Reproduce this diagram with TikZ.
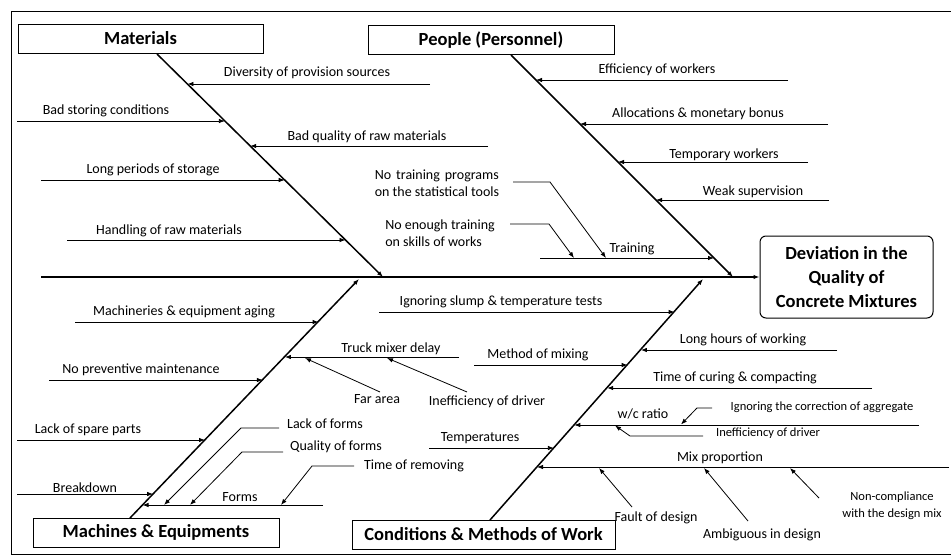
\documentclass[tikz,border=0pt]{standalone}
\usepackage{fontspec}
\setmainfont{Carlito}
\usetikzlibrary{arrows.meta, positioning}
\tikzset{
        x=1pt, y=-1pt, % one unit per pixel of the sketch, y pointing down
        >={Latex[length=6pt,width=4.5pt]}, % small filled arrow heads
        heading/.style={draw, line width=1pt, minimum height=29pt, inner sep=0pt,
            font=\fontsize{18.5}{24}\selectfont\bfseries}, % category boxes
        cause/.style={font=\fontsize{14}{17}\selectfont, inner sep=0pt, align=left},
        minor/.style={font=\fontsize{12.5}{17}\selectfont, inner sep=0pt},
        spine/.style={line width=2pt, ->},
        bone/.style={line width=1.5pt, ->},
        rib/.style={line width=0.8pt, ->},
    }

\begin{document}
\begin{tikzpicture}
    \useasboundingbox (0,0) rectangle (951,557);
    \draw[line width=0.8pt] (951,11) -- (11,11) -- (11,554) -- (951,554);

    % heads of the four bones and the effect
    \node[heading, minimum width=245pt] (mat) at (140.5,38.5) {Materials};
    \node[heading, minimum width=246pt] (ppl) at (491,40) {People (Personnel)};
    \node[heading, minimum width=246pt] (mach) at (156,532.5) {Machines \& Equipments};
    \node[heading, minimum width=263pt] (cond) at (483.5,534.5) {Conditions \& Methods of Work};
    \node[heading, rounded corners=6pt, minimum width=173pt, minimum height=82pt, align=center]
        (dev) at (846.5,277) {Deviation in the\\Quality of\\Concrete Mixtures};

    % spine and bones
    \coordinate (tail) at (41,277);
    \draw[spine] (tail) -- (dev.west);
    \coordinate (matTop) at (157,54);
    \coordinate (matHead) at (383,277);
    \coordinate (pplTop) at (511,55);
    \coordinate (pplHead) at (733,277);
    \coordinate (machFoot) at (130,518);
    \coordinate (machHead) at (359,279);
    \coordinate (condFoot) at (490,520);
    \coordinate (condHead) at (703,279);
    \draw[bone] (matTop) -- (matHead);
    \draw[bone] (pplTop) -- (pplHead);
    \draw[bone] (machFoot) -- (machHead);
    \draw[bone] (condFoot) -- (condHead);

    % Materials
    \node[cause] (divers) at (307,73) {Diversity of provision sources};
    \coordinate (diversA) at (430,84);
    \coordinate (diversB) at (187.4,84);
    \draw[rib] (diversA) -- (diversB);
    \node[cause] (storing) at (106,111) {Bad storing conditions};
    \coordinate (storingA) at (17,121);
    \coordinate (storingB) at (224.9,121);
    \draw[rib] (storingA) -- (storingB);
    \node[cause] (rawqual) at (367,137) {Bad quality of raw materials};
    \coordinate (rawqualA) at (488,146);
    \coordinate (rawqualB) at (250.2,146);
    \draw[rib] (rawqualA) -- (rawqualB);
    \node[cause] (periods) at (153,170) {Long periods of storage};
    \coordinate (periodsA) at (41,180);
    \coordinate (periodsB) at (284.7,180);
    \draw[rib] (periodsA) -- (periodsB);
    \node[cause] (handling) at (169,231) {Handling of raw materials};
    \coordinate (handlingA) at (67,240);
    \coordinate (handlingB) at (345.5,240);
    \draw[rib] (handlingA) -- (handlingB);

    % People
    \node[cause] (effic) at (657,70) {Efficiency of workers};
    \coordinate (efficA) at (788,80);
    \coordinate (efficB) at (536,80);
    \draw[rib] (efficA) -- (efficB);
    \node[cause] (alloc) at (698,114) {Allocations \& monetary bonus};
    \coordinate (allocA) at (828,124);
    \coordinate (allocB) at (580,124);
    \draw[rib] (allocA) -- (allocB);
    \node[cause] (tempo) at (724,155) {Temporary workers};
    \coordinate (tempoA) at (808,162);
    \coordinate (tempoB) at (618,162);
    \draw[rib] (tempoA) -- (tempoB);
    \node[cause] (superv) at (753,192) {Weak supervision};
    \coordinate (supervA) at (829,200);
    \coordinate (supervB) at (656,200);
    \draw[rib] (supervA) -- (supervB);
    \node[cause] (train) at (632,249) {Training};
    \coordinate (trainA) at (540,258);
    \coordinate (trainB) at (714,258);
    \draw[rib] (trainA) -- (trainB);
    \node[cause] (noprog) at (437,183.5) {\makebox[124pt][s]{No training programs}\\on the statistical tools};
    \coordinate (noprogA) at (513,182);
    \coordinate (noprogB) at (550,182);
    \coordinate (noprogC) at (606,258);
    \draw[rib] (noprogA) -- (noprogB) -- (noprogC);
    \node[cause] (noskill) at (440,233.5) {No enough training\\on skills of works};
    \coordinate (noskillA) at (510,224);
    \coordinate (noskillB) at (549,224);
    \coordinate (noskillC) at (574,258);
    \draw[rib] (noskillA) -- (noskillB) -- (noskillC);

    % Machines & Equipments
    \node[cause] (aging) at (184,312) {Machineries \& equipment aging};
    \coordinate (agingA) at (75,322);
    \coordinate (agingB) at (318.6,322);
    \draw[rib] (agingA) -- (agingB);
    \node[cause] (prevent) at (141,370) {No preventive maintenance};
    \coordinate (preventA) at (49,380);
    \coordinate (preventB) at (262.8,380);
    \draw[rib] (preventA) -- (preventB);
    \node[cause] (spare) at (88,430) {Lack of spare parts};
    \coordinate (spareA) at (17,440);
    \coordinate (spareB) at (205,440);
    \draw[rib] (spareA) -- (spareB);
    \node[cause] (brk) at (85,488) {Breakdown};
    \coordinate (brkA) at (17,494);
    \coordinate (brkB) at (153.1,494);
    \draw[rib] (brkA) -- (brkB);
    \node[cause] (truck) at (391,349) {Truck mixer delay};
    \coordinate (truckA) at (459,357);
    \coordinate (truckB) at (284.9,357);
    \draw[rib] (truckA) -- (truckB);
    \node[cause] (far) at (377,399) {Far area};
    \coordinate (farA) at (380,392);
    \coordinate (farB) at (305,358);
    \draw[rib] (farA) -- (farB);
    \node[cause] (driver) at (487,402) {Inefficiency of driver};
    \coordinate (driverA) at (467,392);
    \coordinate (driverB) at (387,358);
    \draw[rib] (driverA) -- (driverB);
    \node[cause] (forms) at (240,497) {Forms};
    \coordinate (formsA) at (323,505);
    \coordinate (formsB) at (142.5,505);
    \draw[rib] (formsA) -- (formsB);
    \node[cause] (lackf) at (325,424) {Lack of forms};
    \coordinate (lackfA) at (279,428);
    \coordinate (lackfB) at (241,428);
    \coordinate (lackfC) at (164,505);
    \draw[rib] (lackfA) -- (lackfB) -- (lackfC);
    \node[cause] (qualf) at (336,447) {Quality of forms};
    \coordinate (qualfA) at (283,452);
    \coordinate (qualfB) at (242,452);
    \coordinate (qualfC) at (190,505);
    \draw[rib] (qualfA) -- (qualfB) -- (qualfC);
    \node[cause] (remov) at (414,466) {Time of removing};
    \coordinate (removA) at (354,466);
    \coordinate (removB) at (312,466);
    \coordinate (removC) at (281,505);
    \draw[rib] (removA) -- (removB) -- (removC);

    % Conditions & Methods of Work
    \node[cause] (slump) at (501,302) {Ignoring slump \& temperature tests};
    \coordinate (slumpA) at (379,312);
    \coordinate (slumpB) at (674.6,312);
    \draw[rib] (slumpA) -- (slumpB);
    \node[cause] (mixing) at (538,355) {Method of mixing};
    \coordinate (mixingA) at (474,365);
    \coordinate (mixingB) at (627.6,365);
    \draw[rib] (mixingA) -- (mixingB);
    \node[cause] (hours) at (743,340) {Long hours of working};
    \coordinate (hoursA) at (837,350);
    \coordinate (hoursB) at (640.9,350);
    \draw[rib] (hoursA) -- (hoursB);
    \node[cause] (curing) at (735,378) {Time of curing \& compacting};
    \coordinate (curingA) at (872,388);
    \coordinate (curingB) at (607.2,388);
    \draw[rib] (curingA) -- (curingB);
    \node[cause] (wc) at (643,414) {w/c ratio};
    \coordinate (wcA) at (919,425);
    \coordinate (wcB) at (574.3,425);
    \draw[rib] (wcA) -- (wcB);
    \node[minor] (aggr) at (822,407) {Ignoring the correction of aggregate};
    \coordinate (aggrA) at (712,408);
    \coordinate (aggrB) at (697,408);
    \coordinate (aggrC) at (681,424.5);
    \draw[rib] (aggrA) -- (aggrB) -- (aggrC);
    \node[minor] (drvwc) at (768,433) {Inefficiency of driver};
    \coordinate (drvwcA) at (703,436);
    \coordinate (drvwcB) at (630,436);
    \coordinate (drvwcC) at (615,425.5);
    \draw[rib] (drvwcA) -- (drvwcB) -- (drvwcC);
    \node[cause] (temper) at (480,438) {Temperatures};
    \coordinate (temperA) at (429,448);
    \coordinate (temperB) at (553.9,448);
    \draw[rib] (temperA) -- (temperB);
    \node[cause] (mixprop) at (720,458) {Mix proportion};
    \coordinate (mixpropA) at (949,467);
    \coordinate (mixpropB) at (537,467);
    \draw[rib] (mixpropA) -- (mixpropB);
    \node[cause] (fault) at (656,518) {Fault of design};
    \coordinate (faultA) at (632,507);
    \coordinate (faultB) at (599,468);
    \draw[rib] (faultA) -- (faultB);
    \node[cause] (ambig) at (762,535) {Ambiguous in design};
    \coordinate (ambigA) at (748,521);
    \coordinate (ambigB) at (704,468);
    \draw[rib] (ambigA) -- (ambigB);
    \node[minor, align=center] (noncomp) at (892,506) {Non-compliance\\with the design mix};
    \coordinate (noncompA) at (819,498);
    \coordinate (noncompB) at (790,468);
    \draw[rib] (noncompA) -- (noncompB);
\end{tikzpicture}
\end{document}
